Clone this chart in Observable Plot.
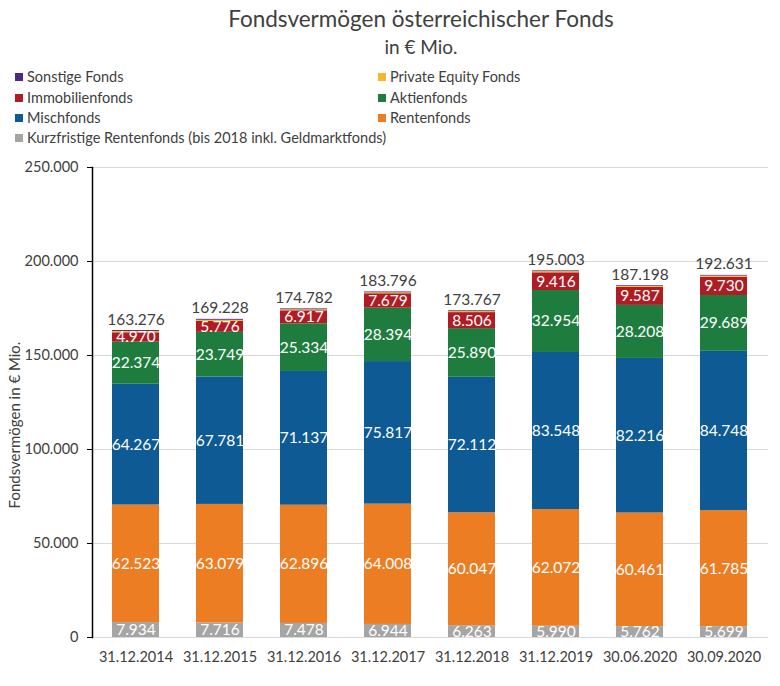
<!DOCTYPE html>
<html>
<head>
<meta charset="utf-8">
<script src="https://cdn.jsdelivr.net/npm/d3@7"></script>
<script src="https://cdn.jsdelivr.net/npm/@observablehq/plot@0.6"></script>
<style>
  html, body { margin: 0; padding: 0; background: #fff; }
  body { width: 780px; height: 686px; position: relative; overflow: hidden; font-family: Lato, "Open Sans", sans-serif; color: #404040; }
  #title { position: absolute; left: 0; width: 842px; top: 5px; text-align: center; font-size: 22.5px; }
  #subtitle { position: absolute; left: 0; width: 842px; top: 35px; text-align: center; font-size: 19px; }
  .leg { position: absolute; font-size: 14.5px; line-height: 16px; white-space: nowrap; }
  .leg span.sw { display: inline-block; width: 8px; height: 8px; margin-right: 4px; vertical-align: 1px; }
  #chart { position: absolute; left: 0; top: 150px; }
  #ylabel { position: absolute; left: 14px; top: 425px; transform: translate(-50%, -50%) rotate(-90deg); font-size: 15px; white-space: nowrap; }
</style>
</head>
<body>
<div id="title">Fondsvermögen österreichischer Fonds</div>
<div id="subtitle">in € Mio.</div>
<div id="legend"></div>
<div id="chart"></div>
<div id="ylabel">Fondsvermögen in € Mio.</div>
<script>
const dates = ["31.12.2014","31.12.2015","31.12.2016","31.12.2017","31.12.2018","31.12.2019","30.06.2020","30.09.2020"];
const seriesNames = ["Kurzfristige Rentenfonds (bis 2018 inkl. Geldmarktfonds)","Rentenfonds","Mischfonds","Aktienfonds","Immobilienfonds","Private Equity Fonds","Sonstige Fonds"];
const seriesColors = ["#a5a5a5","#ed7d22","#0d5a94","#1e7d3e","#b01c24","#f4b92a","#4b2a85"];
const kurz   = [7934, 7716, 7478, 6944, 6263, 5990, 5762, 5699];
const renten = [62523, 63079, 62896, 64008, 60047, 62072, 60461, 61785];
const misch  = [64267, 67781, 71137, 75817, 72112, 83548, 82216, 84748];
const aktien = [22374, 23749, 25334, 28394, 25890, 32954, 28208, 29689];
const immo   = [4970, 5776, 6917, 7679, 8506, 9416, 9587, 9730];
const pe     = [700, 640, 580, 540, 560, 630, 600, 610];
const sonst  = [508, 487, 440, 414, 389, 393, 364, 370];
const totals = [163276, 169228, 174782, 183796, 173767, 195003, 187198, 192631];
const yTicks = [0, 50000, 100000, 150000, 200000, 250000];

const seriesValues = [kurz, renten, misch, aktien, immo, pe, sonst];
const labelled = new Set(seriesNames.slice(0, 5));

const data = [];
seriesNames.forEach((s, si) => {
  dates.forEach((d, di) => data.push({date: d, series: s, value: seriesValues[si][di], label: labelled.has(s)}));
});
const totalData = dates.map((d, i) => ({date: d, total: totals[i]}));

const loc = d3.formatLocale({decimal: ",", thousands: ".", grouping: [3], currency: ["", " €"]});
const fmt = loc.format(",d");

// Legend (two columns, reverse stacking order)
const legendLayout = [
  ["Sonstige Fonds", 15, 69], ["Private Equity Fonds", 378, 69],
  ["Immobilienfonds", 15, 90], ["Aktienfonds", 378, 90],
  ["Mischfonds", 15, 110], ["Rentenfonds", 378, 110],
  ["Kurzfristige Rentenfonds (bis 2018 inkl. Geldmarktfonds)", 15, 130]
];
const legend = document.getElementById("legend");
legendLayout.forEach(([name, x, y]) => {
  const div = document.createElement("div");
  div.className = "leg";
  div.style.left = x + "px";
  div.style.top = y + "px";
  const sw = document.createElement("span");
  sw.className = "sw";
  sw.style.background = seriesColors[seriesNames.indexOf(name)];
  div.appendChild(sw);
  div.appendChild(document.createTextNode(name));
  legend.appendChild(div);
});

const stackOpts = {x: "date", y: "value", z: "series", order: seriesNames};

const chart = Plot.plot({
  width: 780,
  height: 536,
  marginTop: 17,
  marginBottom: 49,
  marginLeft: 92,
  marginRight: 12,
  style: {fontFamily: "Lato, 'Open Sans', sans-serif", color: "#404040", background: "#fff"},
  x: {domain: dates, paddingInner: 0.44, paddingOuter: 0.22, label: null},
  y: {domain: [0, 250000], label: null},
  color: {domain: seriesNames, range: seriesColors},
  marks: [
    Plot.gridY(yTicks, {stroke: "#d9d9d9", strokeOpacity: 1, strokeWidth: 1.2}),
    Plot.barY(data, Plot.stackY({...stackOpts, fill: "series", inset: 0})),
    Plot.text(data, Plot.stackY({...stackOpts, text: d => d.label ? fmt(d.value) : "", fill: "white", fontSize: 15.5})),
    Plot.text(totalData, {x: "date", y: "total", text: d => fmt(d.total), dy: -11, fill: "#404040", fontSize: 15.5}),
    Plot.axisY(yTicks, {tickFormat: fmt, tickSize: 5, tickPadding: 9, fontSize: 14.5, fill: "#404040", stroke: "#000", label: null}),
    Plot.frame({anchor: "left", stroke: "#000", strokeWidth: 1.5}),
    Plot.axisX({tickSize: 0, tickPadding: 14, fontSize: 14.5, fill: "#404040", label: null})
  ]
});
document.getElementById("chart").appendChild(chart);
</script>
</body>
</html>
